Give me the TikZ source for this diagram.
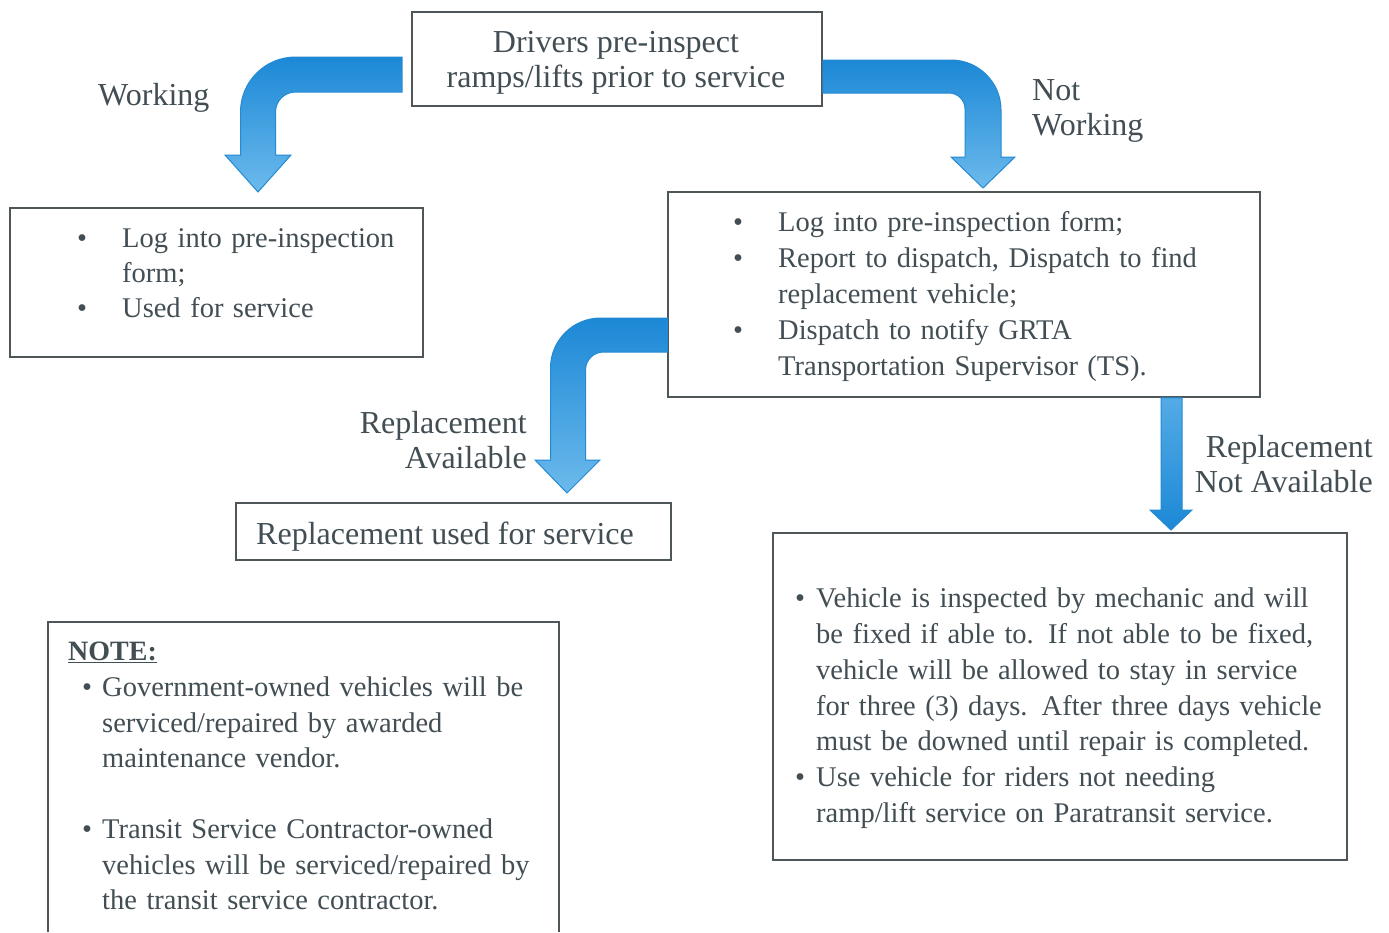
\documentclass[tikz,border=0pt]{standalone}
\usepackage{fontspec}
\setmainfont{Liberation Serif}
\usetikzlibrary{calc}
\definecolor{txt}{RGB}{66,78,84}
\definecolor{edge}{RGB}{78,86,90}
\definecolor{bdark}{RGB}{28,136,214}
\definecolor{blight}{RGB}{108,186,236}
\definecolor{bline}{RGB}{36,138,210}
\setlength\parskip{0pt}
\newcommand\li[2]{\noindent\hangindent=#1\hangafter=1\makebox[#1][l]{\strut\textbullet}#2\par}
\tikzset{
  box/.style={draw=edge, line width=1.5pt, inner sep=0pt, fill=white},
  lbl/.style={inner sep=0pt, text=txt, font=\fontsize{32}{35}\selectfont},
  listtxt/.style={inner sep=0pt, text=txt, text width=600pt, align=left, anchor=north west,
    font=\fontsize{28.5}{#1}\selectfont},
  fat/.style={draw=bline, line width=1pt, top color=bdark, bottom color=blight},
  fatdown/.style={draw=bline, line width=1pt, top color=blight!70!bdark, bottom color=bdark},
}
\begin{document}
\begin{tikzpicture}[x=1pt,y=-1pt]
\useasboundingbox (0,0) rectangle (1389,932);
\fill[white] (0,0) rectangle (1389,932);

% boxes (nodes)
\node[box, minimum width=410pt, minimum height=94pt] (top) at (617,59) {};
\node[box, minimum width=413pt, minimum height=149pt] (left) at (216.5,282.5) {};
\node[box, minimum width=592pt, minimum height=205pt] (right) at (964,294.5) {};
\node[box, minimum width=435pt, minimum height=57pt] (repl) at (453.5,531.5) {};
\node[box, minimum width=574pt, minimum height=327pt] (notav) at (1060,696.5) {};
\node[inner sep=0pt, minimum width=511pt, minimum height=310pt] (note) at (303.5,777) {};
\draw[edge, line width=1.5pt] (note.south west) -- (note.north west) -- (note.north east) -- (note.south east);

% fat arrows
% Working (left)
\path[fat] (402,57) -- (295.5,57) .. controls (265.1,57) and (240.5,81.6) .. (240.5,112)
  -- (240.5,155) -- (225,155) -- (258,192) -- (291,155) -- (275.5,155) -- (275.5,112)
  .. controls (275.5,100.95) and (284.45,92) .. (295.5,92) -- (402,92) -- cycle;
% Not working (right)
\path[fat] (top.east |- 0,60) -- (951,60) .. controls (978.6,60) and (1001,82.4) .. (1001,110)
  -- (1001,157) -- (1015,157) -- (983,188) -- (951,157) -- (965,157) -- (965,109)
  .. controls (965,100.2) and (957.8,93) .. (949,93) -- (top.east |- 0,93) -- cycle;
% Replacement available
\path[fat] (right.west |- 0,318) -- (600.5,318) .. controls (572.9,318) and (550.5,340.4) .. (550.5,368)
  -- (550.5,460) -- (535,460) -- (567,493) -- (600,460) -- (585.5,460) -- (585.5,370)
  .. controls (585.5,360.06) and (593.56,352) .. (603.5,352) -- (right.west |- 0,352) -- cycle;
% Replacement not available
\path[fatdown] (right.south -| 1161,0) -- (1161,510) -- (1150,510) -- (1171,530) -- (1192,510)
  -- (1182,510) -- (right.south -| 1182,0) -- cycle;

% texts
\node[lbl, align=center, anchor=north] (toptxt) at (616,28) {\strut Drivers pre-inspect\\ramps/lifts prior to service};
\node[listtxt=35] (lefttxt) at (77,223) {%
  \li{45pt}{Log into pre-inspection\newline form;}
  \li{45pt}{Used for service}};
\node[listtxt=36] (righttxt) at (733,206.5) {%
  \li{45pt}{Log into pre-inspection form;}
  \li{45pt}{Report to dispatch, Dispatch to find\newline replacement vehicle;}
  \li{45pt}{Dispatch to notify GRTA\newline Transportation Supervisor (TS).}};
\node[lbl, anchor=base west] (repltxt) at (256,544) {Replacement used for service};
\node[listtxt=35.8] (notavtxt) at (795,582.5) {%
  \li{21pt}{Vehicle is inspected by mechanic and will\newline be fixed if able to. If not able to be fixed,\newline vehicle will be allowed to stay in service\newline for three (3) days. After three days vehicle\newline must be downed until repair is completed.}
  \li{21pt}{Use vehicle for riders not needing\newline ramp/lift service on Paratransit service.}};
\node[lbl, anchor=base west, font=\fontsize{28}{35}\selectfont] (notehead) at (68,660) {\textbf{\underline{NOTE:}}};
\node[listtxt=35.5] (notetxt) at (82,671.5) {%
  \li{20pt}{Government-owned vehicles will be\newline serviced/repaired by awarded\newline maintenance vendor.}
  \noindent\strut\par
  \li{20pt}{Transit Service Contractor-owned\newline vehicles will be serviced/repaired by\newline the transit service contractor.}};

% labels
\node[lbl, anchor=base west] (lwork) at (98,105) {Working};
\node[lbl, anchor=north west, align=left] (lnotwork) at (1032,75.5) {\strut Not\\Working};
\node[lbl, anchor=north east, align=right] (lavail) at (527,408.5) {\strut Replacement\\Available};
\node[lbl, anchor=north east, align=right] (lnotavail) at (1373,432.5) {\strut Replacement\\Not Available};
\end{tikzpicture}
\end{document}
